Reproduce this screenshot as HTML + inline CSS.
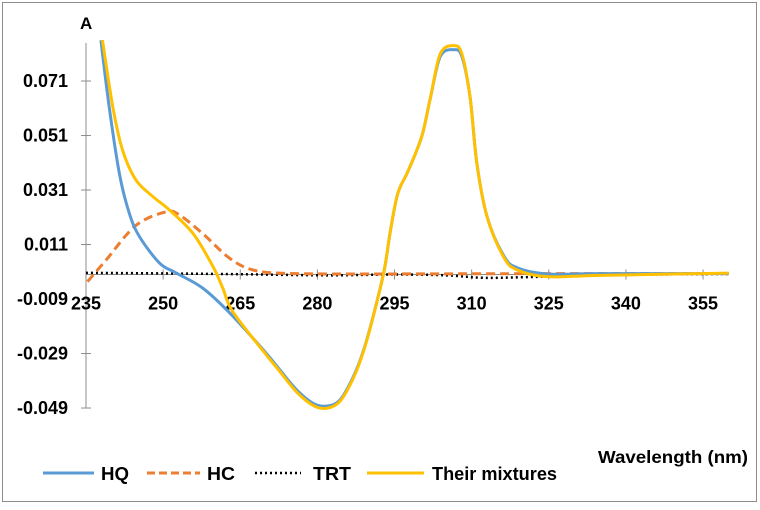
<!DOCTYPE html>
<html><head><meta charset="utf-8">
<style>
body{margin:0;background:#fff;}
svg text{font-family:"Liberation Sans",Arial,sans-serif;font-weight:bold;fill:#000;}
</style></head>
<body>
<svg id="chart" width="760" height="505" viewBox="0 0 760 505" xmlns="http://www.w3.org/2000/svg">
<rect x="2.5" y="2.5" width="754" height="499" fill="#fff" stroke="#8c8c8c" stroke-width="1"/>
<g id="axes"></g>
<g id="series"></g>
<text x="80" y="29" font-size="17">A</text>
<text x="748" y="463" font-size="17.5" text-anchor="end" textLength="150" lengthAdjust="spacingAndGlyphs">Wavelength (nm)</text>
<g>
<g><line x1="43" y1="473" x2="94" y2="473" stroke="#5b9bd5" stroke-width="3"/><text x="101" y="480" font-size="18" textLength="28" lengthAdjust="spacingAndGlyphs">HQ</text></g>
<g><line x1="147" y1="473" x2="200" y2="473" stroke="#ed7d31" stroke-width="3" stroke-dasharray="8,4"/><text x="207" y="480" font-size="18" textLength="28" lengthAdjust="spacingAndGlyphs">HC</text></g>
<g><line x1="255" y1="473" x2="301" y2="473" stroke="#000" stroke-width="2.5" stroke-dasharray="2,3"/><text x="313" y="480" font-size="18" textLength="38" lengthAdjust="spacingAndGlyphs">TRT</text></g>
<g><line x1="367" y1="473" x2="424" y2="473" stroke="#ffc000" stroke-width="3"/><text x="432" y="480" font-size="18" textLength="125" lengthAdjust="spacingAndGlyphs">Their mixtures</text></g>
</g>
</svg>
<script>
const xTicks=[235,250,265,280,295,310,325,340,355];
const yTicks=[0.071,0.051,0.031,0.011,-0.009,-0.029,-0.049];
const yTickLabels=["0.071","0.051","0.031","0.011","-0.009","-0.029","-0.049"];
const hqX=[237.9,239.5,241.5,243.4,245.4,249.3,252.5,257.7,263,269.5,272.7,276,279.2,281.8,284.4,287,289,291,293,294.2,295.6,297.4,299,300.5,302,303.9,306.5,308.1,309.7,311,313,316.2,318.8,324.6,335,360];
const hqY=[0.086,0.0616,0.037,0.0226,0.0139,0.0042,0.0006,-0.005,-0.0142,-0.0277,-0.035,-0.0424,-0.0473,-0.0483,-0.046,-0.0375,-0.0277,-0.0142,0.0016,0.016,0.0295,0.037,0.044,0.052,0.065,0.080,0.0825,0.080,0.065,0.041,0.0212,0.007,0.0025,0.0002,0.0003,0.0003];
const hcX=[235.3,238.9,244.7,250.6,253.2,257.7,262.9,267.4,273.9,290,320,360];
const hcY=[-0.0026,0.0053,0.018,0.023,0.0218,0.015,0.006,0.0017,0.0004,0.0002,0.0003,0.0003];
const trtX=[235,250,265,282,295,305,312,320,330,345,360];
const trtY=[0.0006,0.0004,0.0001,-0.0003,0.0000,-0.0003,-0.0012,-0.001,-0.0005,0.0,0.0002];
const mixX=[238.2,240.2,242.1,244.7,248,251.2,255.8,259.7,261.6,263.5,269.5,272.7,276,279.2,281.8,284.4,287,289,291,293,294.2,295.6,297.4,299,300.5,302,303.9,306.5,308.1,309.7,311,313,316.2,318.8,324.6,335,360];
const mixY=[0.086,0.0616,0.0457,0.0347,0.0286,0.0237,0.0151,0.0029,-0.005,-0.0135,-0.0282,-0.0356,-0.0432,-0.0481,-0.0491,-0.0465,-0.038,-0.028,-0.0144,0.0016,0.016,0.0295,0.037,0.044,0.052,0.065,0.081,0.084,0.081,0.065,0.041,0.0212,0.0065,0.0017,-0.0008,-0.0003,0.0005];

const X=v=>86+(v-235)*5.142;
const Y=v=>274.5-v*2725;
const NS='http://www.w3.org/2000/svg';
const axes=document.getElementById('axes');
const ser=document.getElementById('series');
function mk(tag,attrs,parent){const e=document.createElementNS(NS,tag);for(const k in attrs)e.setAttribute(k,attrs[k]);parent.appendChild(e);return e;}

const ya=mk('line',{x1:86,y1:43,x2:86,y2:Y(-0.049),stroke:'#8c8c8c','stroke-width':1},axes);


const xa=mk('line',{x1:86,y1:Y(0),x2:X(360),y2:Y(0),stroke:'#8c8c8c','stroke-width':1},axes);


yTicks.forEach((t,i)=>{
  mk('line',{x1:81,y1:Y(t),x2:91,y2:Y(t),stroke:'#8c8c8c'},axes);
  const tx=mk('text',{x:68,y:Y(t)+6,'font-size':18,'text-anchor':'end'},axes);
  tx.textContent=yTickLabels[i];
  
  
});
xTicks.forEach(t=>{
  mk('line',{x1:X(t),y1:Y(0)-5,x2:X(t),y2:Y(0)+5,stroke:'#8c8c8c'},axes);
  const tx=mk('text',{x:X(t),y:Y(0)+35,'font-size':18,'text-anchor':'middle'},axes);
  tx.textContent=String(t);
  
  
});
function pathD(xs,ys){
  const p=xs.map((x,i)=>[X(x),Y(ys[i])]);
  let d='M'+p[0][0]+','+p[0][1];
  for(let i=0;i<p.length-1;i++){
    const p0=p[i-1]||p[i],p1=p[i],p2=p[i+1],p3=p[i+2]||p2;
    const c1=[p1[0]+(p2[0]-p0[0])/6,p1[1]+(p2[1]-p0[1])/6];
    const c2=[p2[0]-(p3[0]-p1[0])/6,p2[1]-(p3[1]-p1[1])/6];
    d+=`C${c1[0]},${c1[1]} ${c2[0]},${c2[1]} ${p2[0]},${p2[1]}`;
  }
  return d;
}
const trt=mk('path',{d:pathD(trtX,trtY),fill:'none',stroke:'#000','stroke-width':2.5,'stroke-dasharray':'2,3'},ser);


const hc=mk('path',{d:pathD(hcX,hcY),fill:'none',stroke:'#ed7d31','stroke-width':3,'stroke-dasharray':'9,5'},ser);


const hq=mk('path',{d:pathD(hqX,hqY),fill:'none',stroke:'#5b9bd5','stroke-width':3},ser);


const mix=mk('path',{d:pathD(mixX,mixY),fill:'none',stroke:'#ffc000','stroke-width':3},ser);


</script>
</body></html>
